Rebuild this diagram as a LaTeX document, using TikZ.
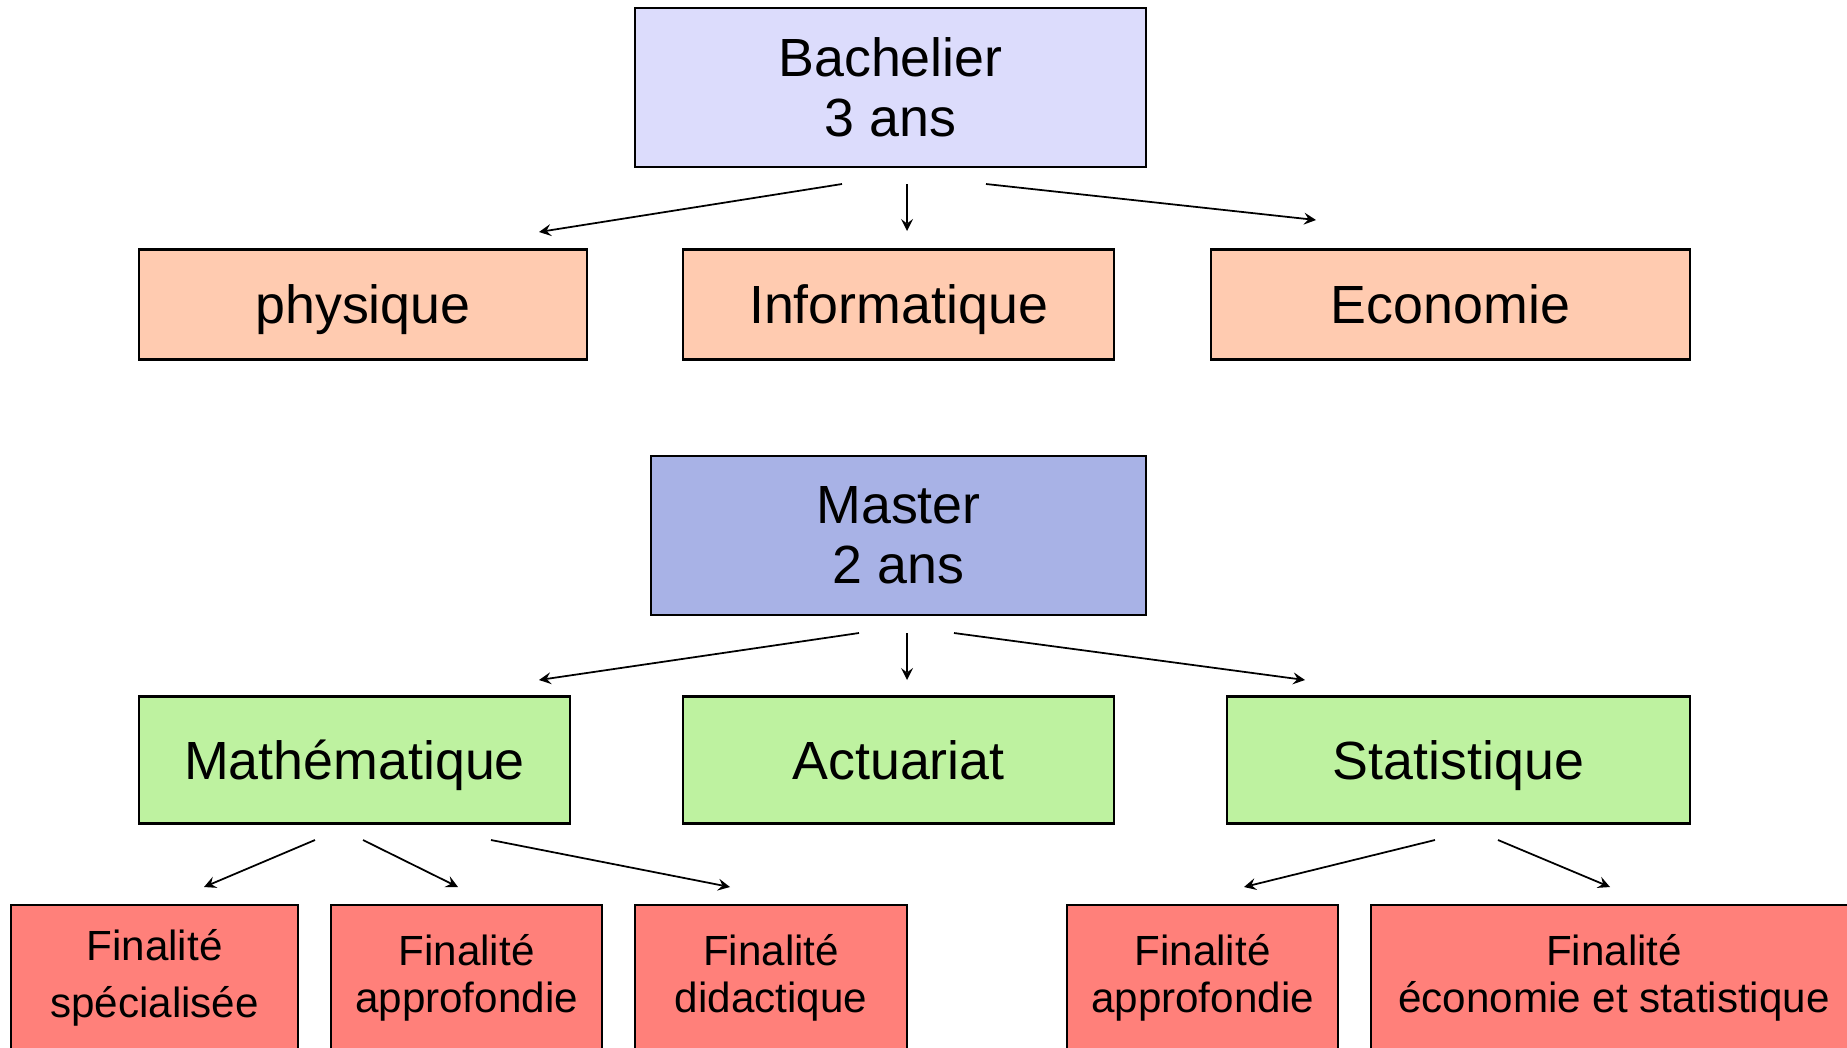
\documentclass[tikz,border=0pt]{standalone}
\usepackage{fontspec}
\setmainfont{Liberation Sans}
\usepackage{tikz}
\usetikzlibrary{positioning, arrows, shapes}
\definecolor{bachblue}{RGB}{220,220,252}
\definecolor{masterblue}{RGB}{168,178,230}
\definecolor{optorange}{RGB}{255,203,176}
\definecolor{optgreen}{RGB}{190,242,160}
\definecolor{finred}{RGB}{255,128,122}
\tikzstyle{degree} = [rectangle, minimum height=1.59cm, text centered, align=center, draw=black, line width=0.6pt, font=\fontsize{15.3}{17}\selectfont]
\tikzstyle{bachelor} = [degree, fill=bachblue]
\tikzstyle{masterbox} = [degree, fill=masterblue]
\tikzstyle{option} = [rectangle, minimum height=1.10cm, text height=11pt, text depth=0pt, text centered, draw=black, line width=0.6pt, fill=optorange, font=\fontsize{15.3}{17}\selectfont]
\tikzstyle{track} = [option, minimum height=1.27cm, fill=optgreen]
\tikzstyle{finality} = [rectangle, minimum height=1.46cm, text centered, align=center, draw=black, line width=0.6pt, fill=finred, font=\fontsize{12}{13.4}\selectfont]
\tikzstyle{arrow} = [line width=0.5pt,->,>=stealth]

\begin{document}
\begin{tikzpicture}[node distance=2.2cm]
        \clip (0,0) rectangle (18.47,-10.47);
        \node (bach) [bachelor, minimum width=5.11cm] at (8.905,-0.875) {Bachelier\\3 ans};
        \node (phys) [option, minimum width=4.48cm, below of=bach, xshift=-5.275cm, yshift=0.03cm]{physique};
        \node (info) [option, minimum width=4.31cm, below of=bach, xshift=0.08cm, yshift=0.03cm]{Informatique};
        \node (eco) [option, minimum width=4.79cm, below of=bach, xshift=5.6cm, yshift=0.03cm]{Economie};

        \node (master) [masterbox, minimum width=4.95cm] at (8.985,-5.355) {Master\\2 ans};
        \node (math) [track, minimum width=4.31cm, below of=master, xshift=-5.44cm, yshift=-0.045cm]{Mathématique};
        \node (actu) [track, minimum width=4.31cm, below of=master, yshift=-0.045cm]{Actuariat};
        \node (stat) [track, minimum width=4.63cm, below of=master, xshift=5.6cm, yshift=-0.045cm]{Statistique};

        \node (fin_spec) [finality, minimum width=2.87cm, below of=math, xshift=-2cm, yshift=0.02cm, font=\fontsize{12}{16.4}\selectfont]{Finalité\\spécialisée};
        \node (fin_appro) [finality, minimum width=2.71cm, below of=math, xshift=1.12cm, yshift=0.02cm]{Finalité\\approfondie};
        \node (fin_didac) [finality, minimum width=2.72cm, below of=math, xshift=4.165cm, yshift=0.02cm]{Finalité\\didactique};
        \node (fin_appro_stat) [finality, minimum width=2.71cm, below of=stat, xshift=-2.56cm, yshift=0.02cm]{Finalité\\approfondie};
        \node (fin_ecostat) [finality, minimum width=4.86cm, below of=stat, xshift=1.555cm, yshift=0.02cm]{Finalité\\économie et statistique};

        \coordinate (bach_l) at (8.42,-1.84);
        \coordinate (bach_m) at (9.07,-1.84);
        \coordinate (bach_r) at (9.86,-1.84);
        \coordinate (phys_in) at (5.39,-2.32);
        \coordinate (info_in) at (9.07,-2.31);
        \coordinate (eco_in) at (13.16,-2.20);
        \coordinate (master_l) at (8.59,-6.33);
        \coordinate (master_m) at (9.07,-6.33);
        \coordinate (master_r) at (9.54,-6.33);
        \coordinate (math_in) at (5.39,-6.80);
        \coordinate (actu_in) at (9.07,-6.80);
        \coordinate (stat_in) at (13.05,-6.80);
        \coordinate (math_l) at (3.15,-8.40);
        \coordinate (math_m) at (3.63,-8.40);
        \coordinate (math_r) at (4.91,-8.40);
        \coordinate (spec_in) at (2.04,-8.87);
        \coordinate (appro_in) at (4.58,-8.87);
        \coordinate (didac_in) at (7.30,-8.87);
        \coordinate (stat_l) at (14.35,-8.40);
        \coordinate (stat_r) at (14.98,-8.40);
        \coordinate (appro_stat_in) at (12.44,-8.87);
        \coordinate (ecostat_in) at (16.10,-8.87);

        \draw [arrow] (bach_l) -- (phys_in);
        \draw [arrow] (bach_m) -- (info_in);
        \draw [arrow] (bach_r) -- (eco_in);
        \draw [arrow] (master_l) -- (math_in);
        \draw [arrow] (master_m) -- (actu_in);
        \draw [arrow] (master_r) -- (stat_in);
        \draw [arrow] (math_l) -- (spec_in);
        \draw [arrow] (math_m) -- (appro_in);
        \draw [arrow] (math_r) -- (didac_in);
        \draw [arrow] (stat_l) -- (appro_stat_in);
        \draw [arrow] (stat_r) -- (ecostat_in);
        \end{tikzpicture}
\end{document}
